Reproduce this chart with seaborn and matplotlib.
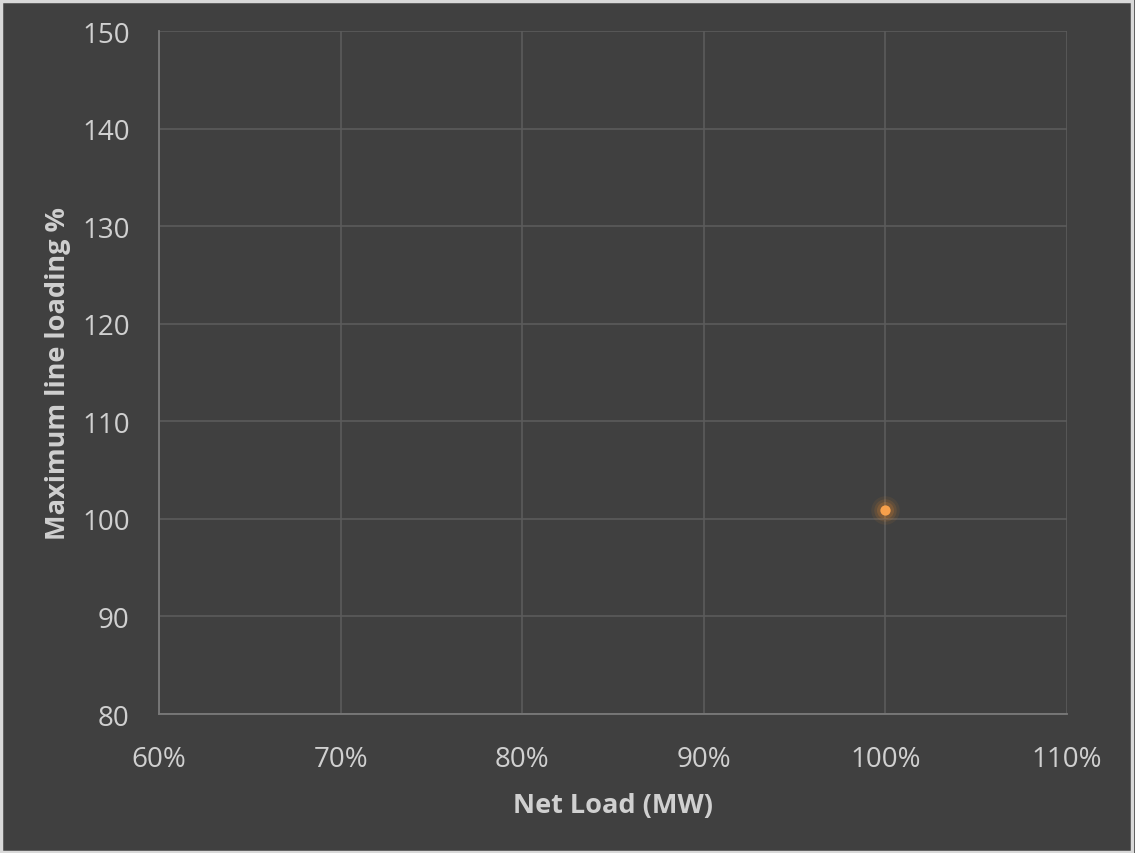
import matplotlib
matplotlib.use("Agg")
import matplotlib.pyplot as plt
import seaborn as sns
import pandas as pd
from matplotlib.ticker import FuncFormatter, MultipleLocator
from matplotlib.patches import Rectangle

net_load = [1.00]
max_loading = [100.9]

df = pd.DataFrame({"Net Load (MW)": net_load, "Maximum line loading %": max_loading})

sns.set_style("dark")
plt.rcParams["font.family"] = ["Open Sans", "DejaVu Sans"]

bg = "#404040"
grid = "#5b5b5b"
text = "#d0d0d0"

W, H = 1135, 854
fig = plt.figure(figsize=(W / 100, H / 100), dpi=100, facecolor=bg)
ax = fig.add_axes([159 / W, 1 - 715 / H, (1067 - 159) / W, (715 - 32) / H])
ax.set_facecolor(bg)

# soft halo behind the point
for s, a in [(420, 0.08), (260, 0.12), (150, 0.18)]:
    sns.scatterplot(data=df, x="Net Load (MW)", y="Maximum line loading %", ax=ax,
                    s=s, color="#f28e2b", alpha=a, linewidth=0, zorder=3, legend=False)
sns.scatterplot(data=df, x="Net Load (MW)", y="Maximum line loading %", ax=ax,
                s=55, color="#f7a04b", linewidth=0, zorder=4, legend=False)

ax.set_xlim(0.6, 1.1)
ax.set_ylim(80, 150)
ax.xaxis.set_major_locator(MultipleLocator(0.1))
ax.yaxis.set_major_locator(MultipleLocator(10))
ax.xaxis.set_major_formatter(FuncFormatter(lambda v, p: f"{round(v * 100)}%"))

ax.grid(True, color=grid, linewidth=1.2)
ax.set_axisbelow(True)
for side in ["top", "right"]:
    ax.spines[side].set_visible(False)
for side in ["left", "bottom"]:
    ax.spines[side].set_visible(True)
    ax.spines[side].set_color("#7a7a7a")
    ax.spines[side].set_linewidth(1.3)

ax.tick_params(axis="both", length=0, labelsize=20, colors=text)
ax.tick_params(axis="x", pad=22)
ax.tick_params(axis="y", pad=21)

ax.set_xlabel("Net Load (MW)", fontsize=19.5, fontweight="bold", color=text, labelpad=14)
ax.set_ylabel("Maximum line loading %", fontsize=19.5, fontweight="bold", color=text, labelpad=8)

fig.patches.append(Rectangle((1 / W, 1.5 / H), 1131 / W, 851 / H, transform=fig.transFigure,
                             fill=False, edgecolor="#d9d9d9", linewidth=2.5))

fig.savefig("out.png", dpi=100, facecolor=bg)
